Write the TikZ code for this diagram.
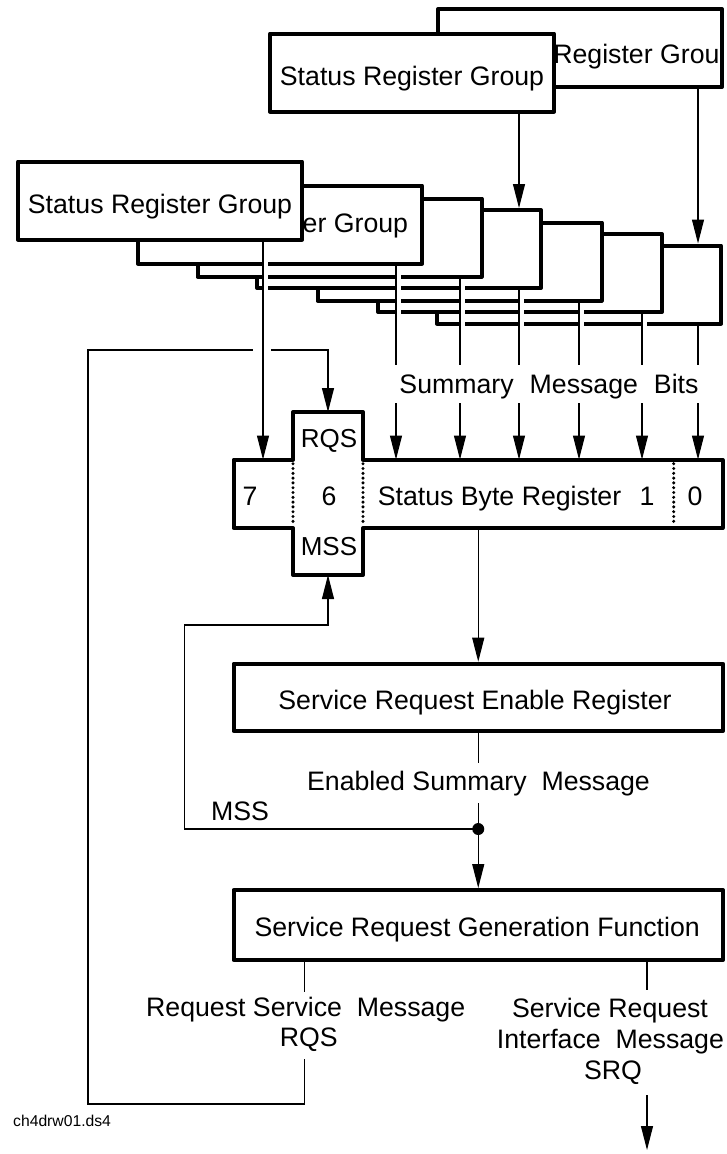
\documentclass[tikz,border=0pt]{standalone}
\usepackage{fontspec}
\setmainfont{Liberation Sans}
\usetikzlibrary{arrows.meta}
\begin{document}
\begin{tikzpicture}[x=1pt,y=-1pt,
  box/.style={draw, line width=4pt, fill=white, line join=round, minimum width=284pt, minimum height=78pt, inner sep=0pt},
  bigbox/.style={draw, line width=4pt, fill=white, line join=round, minimum width=489.5pt, inner sep=0pt},
  lbl/.style={inner sep=0pt, anchor=base, font=\fontsize{26.7pt}{32pt}\selectfont},
  lblw/.style={lbl, anchor=base west},
  small/.style={inner sep=0pt, anchor=base west, font=\fontsize{15.7pt}{18pt}\selectfont},
  ghost/.style={inner sep=0pt, outer sep=0pt},
  wire/.style={line width=1.1pt},
  arr/.style={wire, -{Triangle[length=24pt,width=12pt]}},
  dots/.style={line width=3.4pt, line cap=round, dash pattern=on 0pt off 4.8pt},
]
\useasboundingbox (0,0) rectangle (727,1154);

% ---------- top right pair ----------
\node[box] (A) at (580,48) {};
\begin{scope}
  \clip ([shift={(4pt,-4pt)}]A.north west) rectangle ([shift={(-4pt,4pt)}]A.south east);
  \node[lblw] (tA) at (470,63) {Status Register Group};
\end{scope}
\node[box] (B) at (412,72.5) {};
\node[lbl] (tB) at (412,85) {Status Register Group};

% ---------- left stack ----------
\node[box] (I) at (579,284.5) {};
\node[box] (H) at (520,273) {};
\node[box] (G) at (459.5,261.5) {};
\node[box] (F) at (399,249) {};
\node[box] (E) at (339.5,237.5) {};
\node[box] (D) at (280,224.5) {};
\node[lbl] (tD) at (276,232) {Status Register Group};
\node[box] (C) at (160,200.5) {};
\node[lbl] (tC) at (160,213) {Status Register Group};

% ---------- status byte register ----------
\node[ghost, minimum width=489pt, minimum height=68.4pt] (bar) at (478,493.9) {};
\node[ghost, minimum width=70pt, minimum height=163pt] (col) at (328,493.5) {};
\draw[line width=4pt, line join=round, fill=white]
  (bar.north west) -- (col.west |- bar.north) -- (col.north west) -- (col.north east)
  -- (col.east |- bar.north) -- (bar.north east) -- (bar.south east) -- (col.east |- bar.south)
  -- (col.south east) -- (col.south west) -- (col.west |- bar.south) -- (bar.south west) -- cycle;
\coordinate (d1) at (673.7,493.9);
\draw[dots] ([yshift=-4pt]col.west |- bar.north) -- ([yshift=4pt]col.west |- bar.south);
\draw[dots] ([yshift=-4pt]col.east |- bar.north) -- ([yshift=4pt]col.east |- bar.south);
\draw[dots] ([yshift=-4pt]d1 |- bar.north) -- ([yshift=4pt]d1 |- bar.south);
\node[lbl] (n7) at (250,505.7) {7};
\node[lbl] (n6) at (329,505.7) {6};
\node[lbl] (sbr) at (499.5,505.7) {Status Byte Register};
\node[lbl] (n1) at (647,505.7) {1};
\node[lbl] (n0) at (695,505.7) {0};
\node[lbl, font=\fontsize{26pt}{30pt}\selectfont] (rqs) at (329,447) {RQS};
\node[lbl, font=\fontsize{26pt}{30pt}\selectfont] (mss) at (329,555.7) {MSS};

\coordinate (b7) at (263,459.5);
\coordinate (b5) at (396,459.5);
\coordinate (b4) at (460,459.5);
\coordinate (b3) at (519,459.5);
\coordinate (b2) at (579,459.5);
\coordinate (b1) at (642,459.5);
\coordinate (b0) at (698,459.5);

\node[lbl] (smb) at (549,393) {Summary\hspace{16pt}Message\hspace{16pt}Bits};

% ---------- lower boxes ----------
\node[bigbox, minimum height=67.3pt] (sre) at (478.25,697.35) {};
\node[lbl] (tsre) at (475,709.3) {Service Request Enable Register};
\node[lbl] (esm) at (478.5,790.7) {Enabled Summary\ \ Message};
\coordinate (jn) at (478.25,829);
\node[lbl] (lmss) at (240,820) {MSS};
\node[bigbox, minimum height=70pt] (srg) at (478.25,925) {};
\node[lbl] (tsrg) at (477.2,936) {Service Request Generation Function};
\node[lbl] (rsm1) at (305.7,1016.7) {Request Service\ \ Message};
\node[lbl] (rsm2) at (308.8,1046) {RQS};
\node[lbl] (srq1) at (610,1017.7) {Service Request};
\node[lbl] (srq2) at (610.4,1048.3) {Interface\ \ Message};
\node[lbl] (srq3) at (613,1079.3) {SRQ};
\node[small] (fn) at (13,1126.7) {ch4drw01.ds4};

\coordinate (xr) at (304.5,1104);
\coordinate (xl) at (88,1104);
\coordinate (xt) at (88,350);
\coordinate (xm) at (184.6,625);
\coordinate (xq) at (647,1150);

% ---------- connectors ----------
\draw[arr] (bar.south -| sre.north) -- (sre.north);
\draw[wire] (sre.south) -- ([yshift=27.7pt]esm.base -| sre.south);
\draw[wire] ([yshift=-12.3pt]esm.base -| sre.south) -- (jn);
\draw[arr] (jn) -- (srg.north);
\fill (jn) circle (6pt);
\draw[arr] (jn) -| (xm) -| (col.south);

\draw[wire] (srg.south -| xr) -- ([yshift=24.7pt]rsm1.base -| xr);
\draw[arr] ([yshift=-13pt]rsm2.base -| xr) -- (xr) -- (xl) -- (xt) -| (col.north);

\draw[wire] (srg.south -| xq) -- ([yshift=27.7pt]srq1.base -| xq);
\draw[arr] ([yshift=-15.7pt]srq3.base -| xq) -- (xq);

% gaps where lines cross
\fill[white] (252.7,346) rectangle (270.7,354);
\fill[white] (261.5,244) rectangle (268,293);
\fill[white] (394.5,268) rectangle (401,317);
\fill[white] (458.5,280) rectangle (465,329);
\fill[white] (517.5,292) rectangle (524,329);
\fill[white] (577.5,304) rectangle (584,329);
\fill[white] (640.5,316) rectangle (647,329);

% summary lines from the register groups
\draw[arr] (A.south -| b0) -- (I.north -| b0);
\draw[arr] (B.south -| b3) -- (F.north -| b3);
\draw[arr] (C.south -| b7) -- (b7);
\draw[wire] (D.south -| b5) -- ([yshift=28pt]smb.base -| b5);
\draw[arr] ([yshift=-10pt]smb.base -| b5) -- (b5);
\draw[wire] (E.south -| b4) -- ([yshift=28pt]smb.base -| b4);
\draw[arr] ([yshift=-10pt]smb.base -| b4) -- (b4);
\draw[wire] (F.south -| b3) -- ([yshift=28pt]smb.base -| b3);
\draw[arr] ([yshift=-10pt]smb.base -| b3) -- (b3);
\draw[wire] (G.south -| b2) -- ([yshift=28pt]smb.base -| b2);
\draw[arr] ([yshift=-10pt]smb.base -| b2) -- (b2);
\draw[wire] (H.south -| b1) -- ([yshift=28pt]smb.base -| b1);
\draw[arr] ([yshift=-10pt]smb.base -| b1) -- (b1);
\draw[wire] (I.south -| b0) -- ([yshift=28pt]smb.base -| b0);
\draw[arr] ([yshift=-10pt]smb.base -| b0) -- (b0);
\end{tikzpicture}
\end{document}
